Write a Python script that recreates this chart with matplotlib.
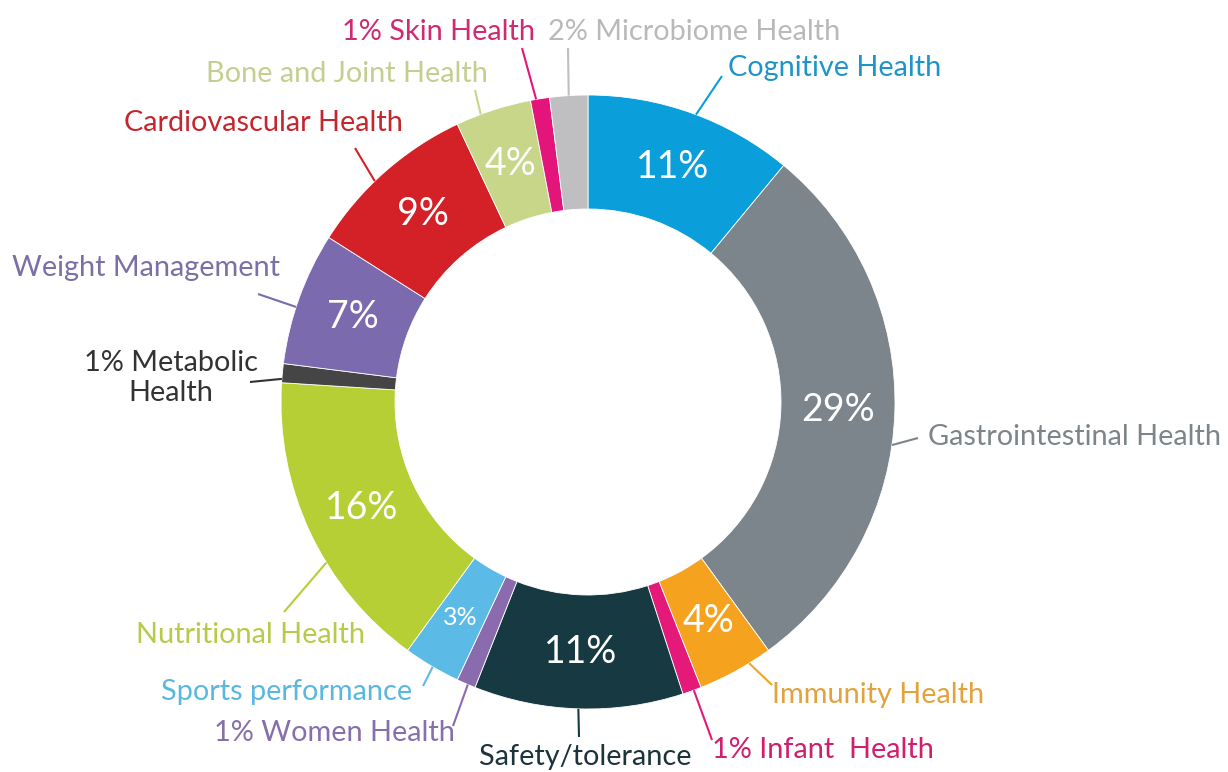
import matplotlib
matplotlib.use("Agg")
import matplotlib.pyplot as plt
import numpy as np

plt.rcParams['font.family'] = ['Lato', 'DejaVu Sans']

W, H = 1228, 772

# slices, clockwise from 12 o'clock
categories = ["Cognitive Health", "Gastrointestinal Health", "Immunity Health",
              "Infant  Health", "Safety/tolerance", "Women Health",
              "Sports performance", "Nutritional Health", "Metabolic\nHealth",
              "Weight Management", "Cardiovascular Health",
              "Bone and Joint Health", "Skin Health", "Microbiome Health"]
shares = [11, 29, 4, 1, 11, 1, 3, 16, 1, 7, 9, 4, 1, 2]
# True -> percentage printed inside the ring, False -> in front of the outer label
inner_pct = [True, True, True, False, True, False, True, True, False,
             True, True, True, False, False]

colors = ["#0a9edb", "#7c858b", "#f5a21e", "#e5197a", "#173a42", "#8a6cae",
          "#5bbbe6", "#b5cf35", "#454545", "#7b6aad", "#d42027", "#c8d68a",
          "#e3157b", "#bfbfc1"]
text_colors = ["#1f94c9", "#7d858a", "#e3a33c", "#cf1f6d", "#1c3339", "#8670ab",
               "#5ab7df", "#b5cc4a", "#333333", "#7b6fa6", "#c5262d", "#c3cf8f",
               "#cf2a72", "#b9b9bb"]

# label placement in pixels from top-left: text x, text y, alignment,
# leader end x, leader end y, where on the slice the leader touches (0..1)
layout = {
    "Cognitive Health":        (728, 68, "left", 722, 76, 0.52),
    "Gastrointestinal Health": (928, 437, "left", 918, 438, 0.56),
    "Immunity Health":         (772, 695, "left", 772, 685, 0.3),
    "Infant  Health":          (712, 750, "left", 712, 740, 0.4),
    "Safety/tolerance":        (585, 757, "center", 579, 737, 0.5),
    "Women Health":            (455, 733, "right", 453, 726, 0.4),
    "Sports performance":      (412, 692, "right", 423, 686, 0.48),
    "Nutritional Health":      (365, 635, "right", 284, 612, 0.39),
    "Metabolic\nHealth":       (171, 378, "center", 250, 382, 0.2),
    "Weight Management":       (280, 268, "right", 258, 294, 0.43),
    "Cardiovascular Health":   (403, 123, "right", 355, 148, 0.42),
    "Bone and Joint Health":   (488, 74, "right", 475, 90, 0.33),
    "Skin Health":             (535, 32, "right", 522, 48, 0.3),
    "Microbiome Health":       (548, 32, "left", 568, 48, 0.5),
}

cx, cy = 588, H - 402
r_out, ring = 307, 114

fig = plt.figure(figsize=(W / 100, H / 100), dpi=100)
ax = fig.add_axes([0, 0, 1, 1])

wedges, _ = ax.pie(shares, colors=colors, startangle=90, counterclock=False,
                   radius=r_out, center=(cx, cy), frame=False,
                   wedgeprops=dict(width=ring, edgecolor="white", linewidth=0.6))
ax.set_xlim(0, W)
ax.set_ylim(0, H)
ax.set_aspect("equal")
ax.axis("off")


def on_ring(w, frac, r):
    # frac runs clockwise through the wedge
    a = np.radians(w.theta2 - frac * (w.theta2 - w.theta1))
    return cx + r * np.cos(a), cy + r * np.sin(a)


r_mid = r_out - ring / 2
for w, name, v, inside, col, tcol in zip(wedges, categories, shares, inner_pct,
                                          colors, text_colors):
    if inside:
        x, y = on_ring(w, 0.5, r_mid)
        ax.text(x, y, f"{v}%", color="white", ha="center", va="center",
                fontsize=18 if v < 4 else 27)

    tx, ty, ha, lx, ly, frac = layout[name]
    label = name if inside else f"{v}% {name}"
    ax.text(tx, H - ty, label, color=tcol, ha=ha, va="center", fontsize=20.8,
            multialignment="center", linespacing=1.2)
    sx, sy = on_ring(w, frac, r_out)
    ax.plot([sx, lx], [sy, H - ly], color=col if name != "Metabolic\nHealth" else "#333333",
            lw=1.5, solid_capstyle="butt")

fig.savefig("out.png", dpi=100, facecolor="white")
